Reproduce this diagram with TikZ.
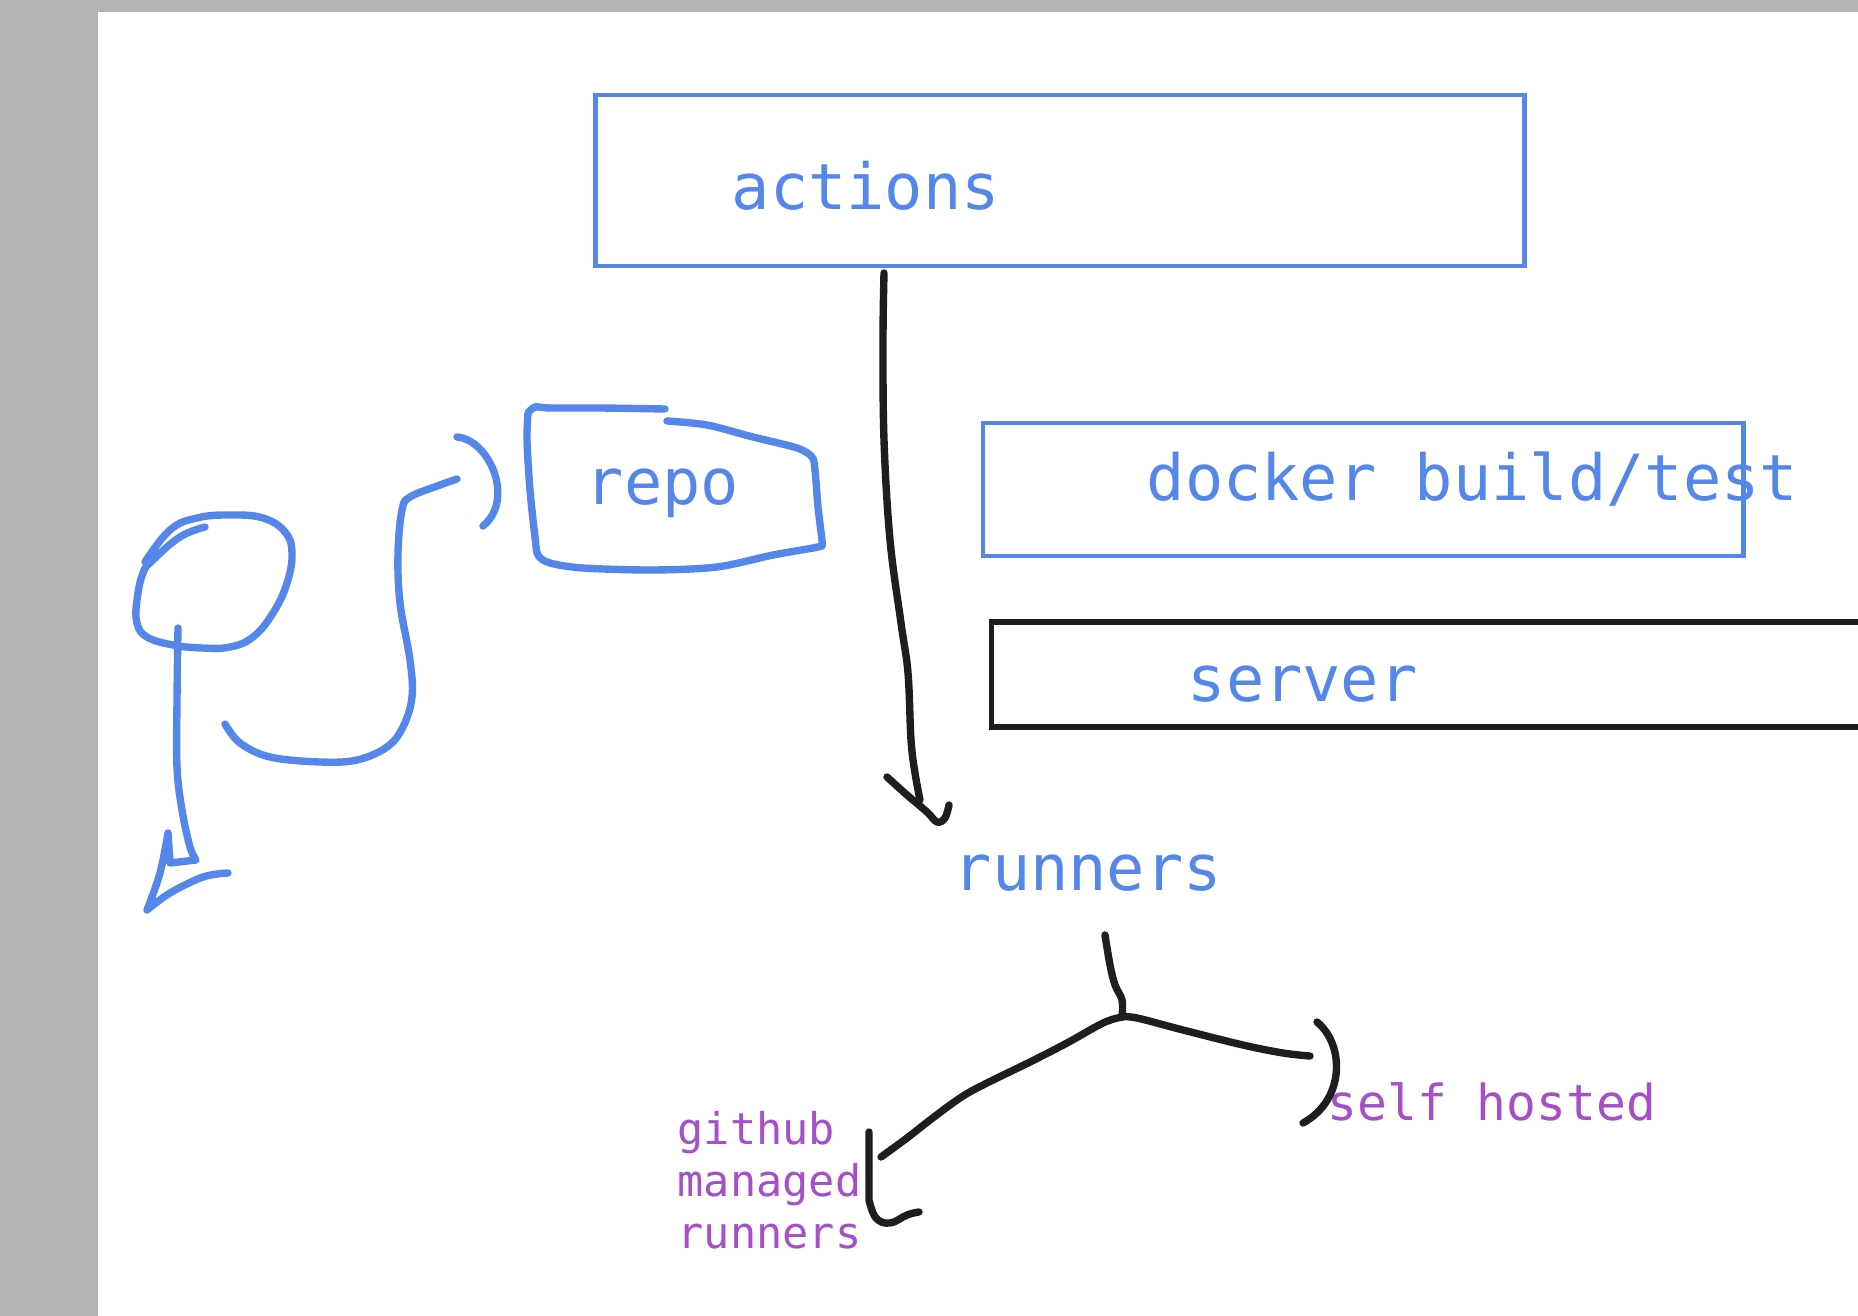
\documentclass[tikz,border=0pt]{standalone}
\usepackage{fontspec}
\setmonofont{DejaVu Sans Mono}
\usetikzlibrary{positioning}
\definecolor{penblue}{HTML}{5587EB}
\definecolor{penpurple}{HTML}{A64FC9}
\definecolor{penblack}{HTML}{1E1E1E}
\definecolor{pagegrey}{HTML}{B3B3B3}
\tikzset{>=stealth}
\tikzset{
  bluepen/.style={draw=penblue, line width=2.1pt, line cap=round, line join=round},
  blackpen/.style={draw=penblack, line width=2.1pt, line cap=round, line join=round},
  bluebox/.style={draw=penblue, line width=1.3pt, inner sep=0pt},
  blackbox/.style={draw=penblack, line width=1.5pt, inner sep=0pt},
  bigtext/.style={inner sep=0pt, anchor=base west, text=penblue, font=\ttfamily\fontsize{18.1}{19}\selectfont},
  smalltext/.style={inner sep=0pt, anchor=base west, text=penpurple, font=\ttfamily\fontsize{12.4}{13}\selectfont},
  midtext/.style={inner sep=0pt, anchor=base west, text=penpurple, font=\ttfamily\fontsize{14.1}{15}\selectfont},
}

\begin{document}
\begin{tikzpicture}[x=0.01cm, y=-0.01cm]
\useasboundingbox (0, 0) rectangle (1858, 1316);
\clip (0, 0) rectangle (1858, 1316);
% page
\fill[pagegrey] (0, 0) rectangle (1858, 1316);
\fill[white] (98, 12) rectangle (1858, 1316);

% boxes
\node[bluebox, minimum width=9.28cm, minimum height=1.71cm] (actionsbox) at (1060, 180.5) {};
\node[bluebox, minimum width=7.60cm, minimum height=1.33cm] (dockerbox) at (1363, 489.5) {};
\node[blackbox, minimum width=8.88cm, minimum height=1.05cm] (serverbox) at (1436, 674.5) {};

% labels
\node[bigtext] (actions) at (731, 210) {actions};
\node[bigtext] (repo) at (585, 505) {repo};
\node[bigtext] (docker) at (1146, 501) {docker build/test};
\node[bigtext] (server) at (1187, 701) {server};
\node[bigtext] (runners) at (953, 890) {runners};
\node[midtext] (selfhosted) at (1327, 1120) {self hosted};
\node[smalltext] (gh1) at (677, 1144) {github};
\node[smalltext] (gh2) at (677, 1196) {managed};
\node[smalltext] (gh3) at (677, 1248) {runners};

% actions -> runners
\coordinate (arrowtop) at (884, 273);
\coordinate (arrowtip) at (920, 800);
\draw[blackpen] plot[smooth, tension=0.6] coordinates {(arrowtop) (883, 340) (884, 440) (890, 540) (901, 623) (908, 673) (911, 740) (915, 773) (arrowtip)};
\draw[blackpen] plot[smooth, tension=0.6] coordinates {(887, 777) (907, 795) (927, 812) (937, 822) (945, 818) (949, 805)};

% runners fork
\coordinate (forktop) at (1105, 935);
\coordinate (fork) at (1122, 1017);
\draw[blackpen] plot[smooth, tension=0.6] coordinates {(forktop) (1110, 965) (1115, 985) (1122, 1000) (fork)};
\draw[blackpen] plot[smooth, tension=0.6] coordinates {(fork) (1137, 1018) (1183, 1030) (1243, 1045) (1283, 1053) (1310, 1056)};
\draw[blackpen] (1317, 1022) .. controls (1345, 1045) and (1345, 1100) .. (1303, 1123);
\draw[blackpen] plot[smooth, tension=0.6] coordinates {(fork) (1103, 1023) (1067, 1043) (1030, 1062) (983, 1085) (960, 1098) (930, 1120) (907, 1138) (881, 1157)};
\draw[blackpen] (869, 1132) -- (869, 1200) plot[smooth, tension=0.7] coordinates {(869, 1200) (876, 1218) (890, 1223) (907, 1215) (919, 1212)};

% repo outline
\draw[bluepen] plot[smooth, tension=0.5] coordinates {(667, 421) (707, 425) (753, 437) (797, 448) (812, 457) (815, 470) (818, 507) (822, 540) (822, 546)}
  plot[smooth, tension=0.5] coordinates {(822, 546) (813, 548) (773, 555) (717, 567) (653, 570) (583, 568) (550, 563) (538, 555) (535, 537) (530, 490) (527, 440) (528, 413)}
  plot[smooth, tension=0.5] coordinates {(528, 413) (535, 407) (550, 408) (600, 408) (665, 409)};

% loop from repo
\draw[bluepen] (457, 437) .. controls (490, 440) and (515, 500) .. (483, 526);
\draw[bluepen] plot[smooth, tension=0.6] coordinates {(457, 479) (440, 485) (410, 497) (402, 510) (398, 553) (400, 603) (410, 660) (412, 697) (403, 727) (387, 747) (357, 760) (320, 762) (270, 757) (240, 743) (225, 724)};
\draw[bluepen] plot[smooth, tension=0.7] coordinates {(145, 562) (170, 530) (197, 518) (230, 515) (263, 518) (285, 532) (292, 553) (287, 583) (273, 613) (253, 637) (230, 647) (203, 648) (173, 645) (147, 637) (137, 623) (137, 600) (143, 573) (153, 560) (180, 537) (205, 527)};
\draw[bluepen] plot[smooth, tension=0.6] coordinates {(178, 628) (177, 700) (177, 767) (182, 810) (190, 847) (196, 860)}
  -- (170, 863) -- (168, 833)
  plot[smooth, tension=0.6] coordinates {(168, 833) (160, 873) (147, 910)}
  plot[smooth, tension=0.6] coordinates {(147, 910) (170, 893) (203, 877) (228, 873)};
\end{tikzpicture}
\end{document}
